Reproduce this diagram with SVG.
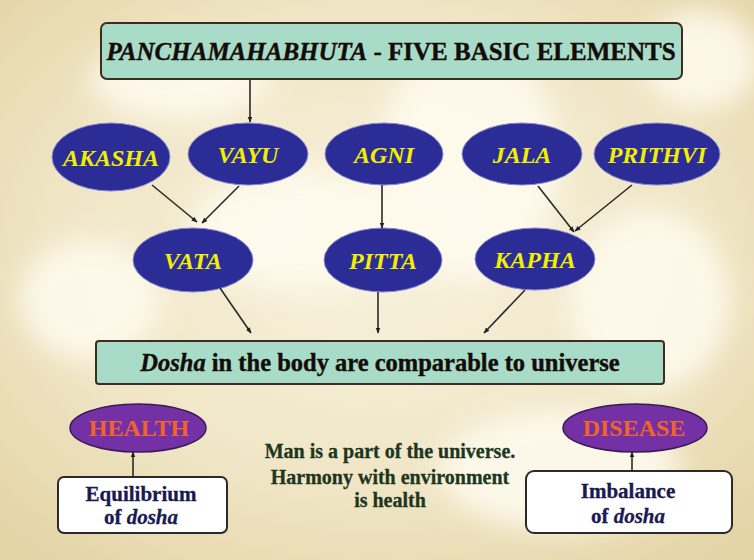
<svg xmlns="http://www.w3.org/2000/svg" width="754" height="560" viewBox="0 0 754 560">
<defs>
<radialGradient id="bg" cx="50%" cy="45%" r="70%">
<stop offset="0" stop-color="#f8f2de"/>
<stop offset="0.6" stop-color="#f0e6c6"/>
<stop offset="1" stop-color="#e4d4a6"/>
</radialGradient>
<filter id="blur" x="-30%" y="-30%" width="160%" height="160%"><feGaussianBlur stdDeviation="14"/></filter>
<marker id="ah" viewBox="0 0 10 10" refX="9" refY="5" markerWidth="6" markerHeight="6" orient="auto" markerUnits="userSpaceOnUse">
<path d="M0,1 L10,5 L0,9 z" fill="#222"/>
</marker>
<style>
.box{fill:#a9dcc8;stroke:#3a2e22;stroke-width:2}
.el{fill:#2c2c96;stroke:#8a8ad0;stroke-width:1}
.elt{font-family:'Liberation Serif','Times New Roman','DejaVu Serif',serif;font-weight:bold;font-style:italic;font-size:24px;fill:#f2f000;text-anchor:middle}
.pel{fill:#7431a6;stroke:#3a1a5a;stroke-width:1.5}
.pelt{font-family:'Liberation Serif','Times New Roman','DejaVu Serif',serif;font-weight:bold;font-size:24px;fill:#f06428;text-anchor:middle}
.wb{fill:#ffffff;stroke:#2a2a2a;stroke-width:2}
.wbt{font-family:'Liberation Serif','Times New Roman','DejaVu Serif',serif;font-weight:bold;font-size:21px;fill:#1a1a50;text-anchor:middle;stroke:#1a1a50;stroke-width:0.3}
.hd{font-family:'Liberation Serif','Times New Roman','DejaVu Serif',serif;font-weight:bold;fill:#140c08;text-anchor:middle;stroke:#140c08;stroke-width:0.4}
.gt{font-family:'Liberation Serif','Times New Roman','DejaVu Serif',serif;font-weight:bold;font-size:20px;fill:#1e361e;text-anchor:middle;stroke:#1e361e;stroke-width:0.3}
.cn{stroke:#2a2a2a;stroke-width:1.6;fill:none;marker-end:url(#ah)}
</style>
</defs>
<rect width="754" height="560" fill="url(#bg)"/>
<g filter="url(#blur)" fill="#fffcf0" opacity="0.85">
<ellipse cx="470" cy="160" rx="90" ry="120"/>
<ellipse cx="300" cy="230" rx="110" ry="60"/>
<ellipse cx="650" cy="300" rx="80" ry="90"/>
<ellipse cx="90" cy="300" rx="70" ry="60"/>
<ellipse cx="560" cy="470" rx="120" ry="60"/>
<ellipse cx="180" cy="80" rx="90" ry="40"/>
<ellipse cx="700" cy="60" rx="60" ry="50"/>
</g>
<g id="title">
<rect class="box" x="101" y="23" width="581" height="56" rx="6"/>
<text class="hd" x="391" y="60" font-size="25"><tspan font-style="italic">PANCHAMAHABHUTA</tspan> - FIVE BASIC ELEMENTS</text>
</g>
<g id="akasha"><ellipse class="el" cx="111" cy="157" rx="59" ry="34"/><text class="elt" x="111" y="166">AKASHA</text></g>
<g id="vayu"><ellipse class="el" cx="248" cy="154" rx="60" ry="31"/><text class="elt" x="248" y="163">VAYU</text></g>
<g id="agni"><ellipse class="el" cx="384" cy="154" rx="59" ry="31"/><text class="elt" x="384" y="163">AGNI</text></g>
<g id="jala"><ellipse class="el" cx="522" cy="154" rx="60" ry="31"/><text class="elt" x="522" y="163">JALA</text></g>
<g id="prithvi"><ellipse class="el" cx="657" cy="154" rx="63" ry="31"/><text class="elt" x="657" y="163">PRITHVI</text></g>
<g id="vata"><ellipse class="el" cx="193" cy="260" rx="60" ry="32"/><text class="elt" x="193" y="269">VATA</text></g>
<g id="pitta"><ellipse class="el" cx="383" cy="260" rx="59" ry="32"/><text class="elt" x="383" y="269">PITTA</text></g>
<g id="kapha"><ellipse class="el" cx="535" cy="259" rx="60" ry="31"/><text class="elt" x="535" y="268">KAPHA</text></g>
<g id="dosha">
<rect class="box" x="96" y="341" width="568" height="43" rx="3"/>
<text class="hd" x="380" y="371" font-size="24.5"><tspan font-style="italic">Dosha</tspan> in the body are comparable to universe</text>
</g>
<g id="health"><ellipse class="pel" cx="138" cy="428" rx="68" ry="24"/><text class="pelt" x="139" y="436">HEALTH</text></g>
<g id="disease"><ellipse class="pel" cx="635" cy="428" rx="72" ry="24"/><text class="pelt" x="634" y="436">DISEASE</text></g>
<g id="equilibrium">
<rect class="wb" x="58" y="477" width="169" height="56" rx="6"/>
<text class="wbt" x="141" y="501">Equilibrium</text>
<text class="wbt" x="141" y="524">of <tspan font-style="italic">dosha</tspan></text>
</g>
<g id="imbalance">
<rect class="wb" x="526" y="471" width="206" height="62" rx="8"/>
<text class="wbt" x="628" y="498">Imbalance</text>
<text class="wbt" x="628" y="523">of <tspan font-style="italic">dosha</tspan></text>
</g>
<g id="note">
<text class="gt" x="390" y="458">Man is a part of the universe.</text>
<text class="gt" x="390" y="484">Harmony with environment</text>
<text class="gt" x="390" y="507">is health</text>
</g>
<g id="connectors">
<line class="cn" x1="250" y1="80" x2="250" y2="122"/>
<line class="cn" x1="152" y1="185" x2="197" y2="222"/>
<line class="cn" x1="239" y1="186" x2="202" y2="223"/>
<line class="cn" x1="382" y1="185" x2="382" y2="228"/>
<line class="cn" x1="538" y1="186" x2="574" y2="232"/>
<line class="cn" x1="632" y1="185" x2="575" y2="231"/>
<line class="cn" x1="220" y1="288" x2="251" y2="333"/>
<line class="cn" x1="378" y1="292" x2="378" y2="333"/>
<line class="cn" x1="525" y1="290" x2="484" y2="333"/>
<line class="cn" x1="133" y1="477" x2="133" y2="452"/>
<line class="cn" x1="632" y1="471" x2="632" y2="452"/>
</g>
</svg>
